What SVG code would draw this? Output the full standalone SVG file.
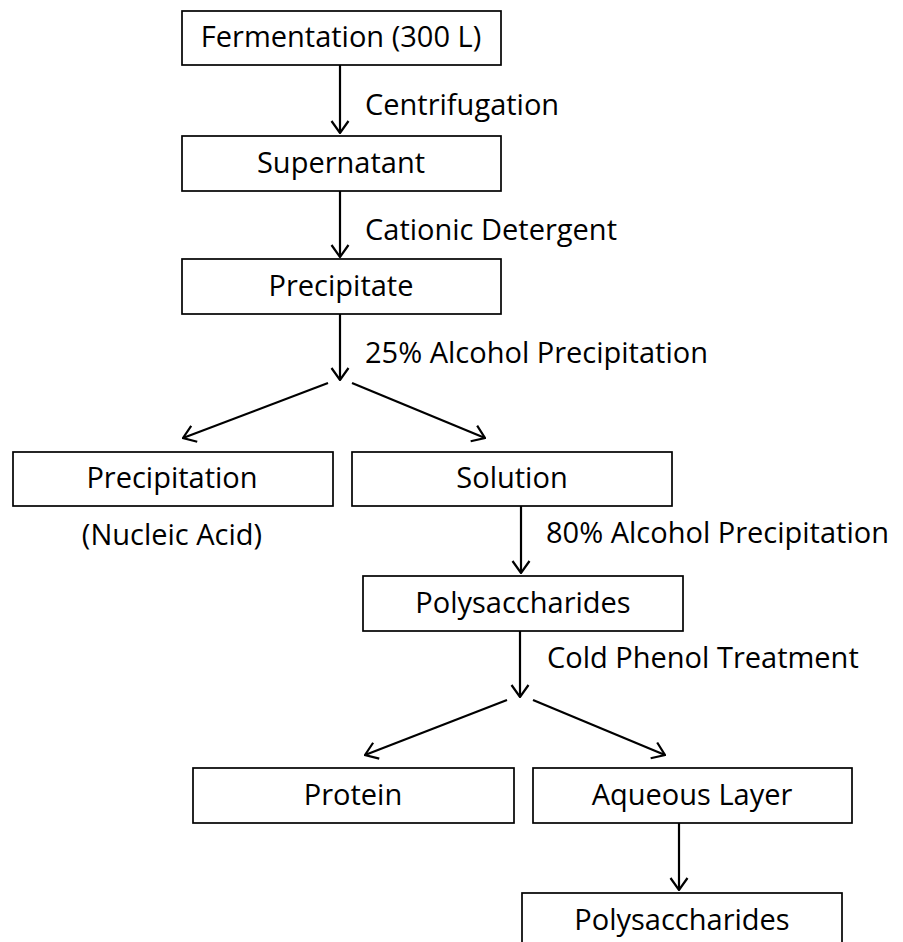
<svg xmlns="http://www.w3.org/2000/svg" width="903" height="942" viewBox="0 0 903 942">
<style>
  .box { fill: #fff; stroke: #000; stroke-width: 1.7; }
  .t { font-family: "Open Sans", "Noto Sans", sans-serif; font-size: 29px; fill: #000; }
  .c { text-anchor: middle; }
  .edge { stroke: #000; stroke-width: 2.2; fill: none; marker-end: url(#arrow); }
</style>
<defs>
  <marker id="arrow" markerUnits="userSpaceOnUse" markerWidth="14" markerHeight="20" viewBox="0 0 14 20" refX="13" refY="10" orient="auto">
    <path d="M1,1.5 L13,10 L1,18.5" fill="none" stroke="#000" stroke-width="2.2"/>
  </marker>
</defs>
<rect width="903" height="942" fill="#fff"/>
<g id="connectors">
  <line class="edge" x1="340" y1="65" x2="340" y2="133"/>
  <line class="edge" x1="340" y1="191" x2="340" y2="257"/>
  <line class="edge" x1="340" y1="314" x2="340" y2="380"/>
  <line class="edge" x1="328" y1="383" x2="183" y2="438"/>
  <line class="edge" x1="352" y1="383" x2="485" y2="438"/>
  <line class="edge" x1="521" y1="506" x2="521" y2="573"/>
  <line class="edge" x1="520" y1="631" x2="520" y2="697"/>
  <line class="edge" x1="507" y1="700" x2="365" y2="755"/>
  <line class="edge" x1="533" y1="700" x2="665" y2="755"/>
  <line class="edge" x1="679" y1="823" x2="679" y2="890"/>
  <text class="t" x="365" y="115">Centrifugation</text>
  <text class="t" x="365" y="240">Cationic Detergent</text>
  <text class="t" x="365" y="363">25% Alcohol Precipitation</text>
  <text class="t" x="546" y="543">80% Alcohol Precipitation</text>
  <text class="t" x="547" y="668">Cold Phenol Treatment</text>
</g>
<g id="fermentation">
  <rect class="box" x="182" y="11" width="319" height="54"/>
  <text class="t c" x="341" y="47">Fermentation (300 L)</text>
</g>
<g id="supernatant">
  <rect class="box" x="182" y="136" width="319" height="55"/>
  <text class="t c" x="341" y="173">Supernatant</text>
</g>
<g id="precipitate">
  <rect class="box" x="182" y="259" width="319" height="55"/>
  <text class="t c" x="341" y="296">Precipitate</text>
</g>
<g id="precipitation">
  <rect class="box" x="13" y="452" width="320" height="54"/>
  <text class="t c" x="172" y="488">Precipitation</text>
  <text class="t c" x="172" y="545">(Nucleic Acid)</text>
</g>
<g id="solution">
  <rect class="box" x="352" y="452" width="320" height="54"/>
  <text class="t c" x="512" y="488">Solution</text>
</g>
<g id="polysaccharides1">
  <rect class="box" x="363" y="576" width="320" height="55"/>
  <text class="t c" x="523" y="613">Polysaccharides</text>
</g>
<g id="protein">
  <rect class="box" x="193" y="768" width="321" height="55"/>
  <text class="t c" x="353" y="805">Protein</text>
</g>
<g id="aqueous">
  <rect class="box" x="533" y="768" width="319" height="55"/>
  <text class="t c" x="692" y="805">Aqueous Layer</text>
</g>
<g id="polysaccharides2">
  <rect class="box" x="522" y="893" width="320" height="60"/>
  <text class="t c" x="682" y="930">Polysaccharides</text>
</g>
</svg>
